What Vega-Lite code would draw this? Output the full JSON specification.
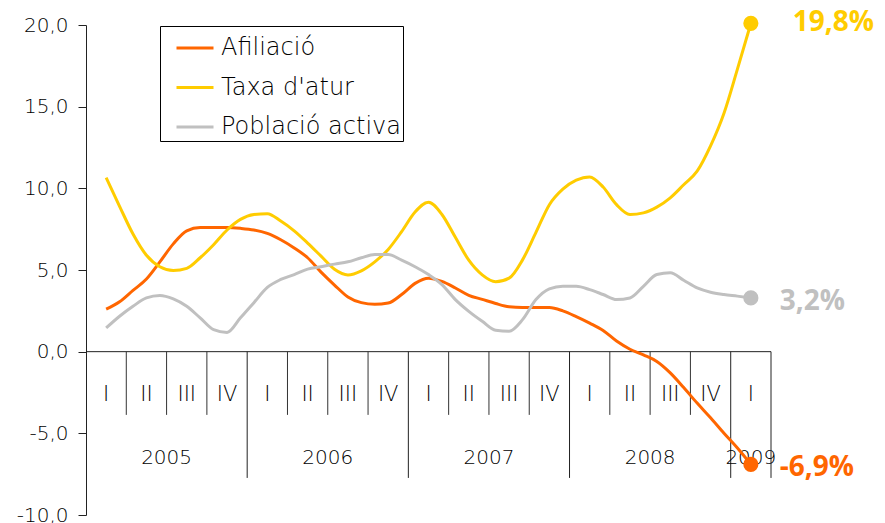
{
  "$schema": "https://vega.github.io/schema/vega-lite/v6.json",
  "width": 685,
  "height": 490,
  "autosize": {"type": "none"},
  "padding": {"left": 86, "top": 25, "right": 114, "bottom": 8},
  "background": "white",
  "config": {
    "view": {"stroke": null},
    "font": "DejaVu Sans",
    "legend": {
      "orient": "none",
      "strokeColor": "black",
      "fillColor": "white",
      "padding": 2,
      "symbolType": "stroke",
      "symbolStrokeWidth": 3,
      "symbolSize": 1369,
      "symbolOffset": 13,
      "rowPadding": 7.5,
      "labelFontSize": 24,
      "labelFont": "DejaVu Sans",
      "labelFontWeight": 200,
      "labelColor": "#000",
      "labelOffset": 6,
      "labelLimit": 400,
      "title": null
    }
  },
  "datasets": {
    "series": [
      {"serie": "Afiliació", "t": 0, "v": 2.6}, {"serie": "Afiliació", "t": 1, "v": 3.05}, {"serie": "Afiliació", "t": 2, "v": 3.75}, {"serie": "Afiliació", "t": 3, "v": 4.45}, {"serie": "Afiliació", "t": 4, "v": 5.5}, {"serie": "Afiliació", "t": 5, "v": 6.6}, {"serie": "Afiliació", "t": 6, "v": 7.4}, {"serie": "Afiliació", "t": 7, "v": 7.6}, {"serie": "Afiliació", "t": 8, "v": 7.6}, {"serie": "Afiliació", "t": 9, "v": 7.6}, {"serie": "Afiliació", "t": 10, "v": 7.55}, {"serie": "Afiliació", "t": 11, "v": 7.45}, {"serie": "Afiliació", "t": 12, "v": 7.24}, {"serie": "Afiliació", "t": 13, "v": 6.85}, {"serie": "Afiliació", "t": 14, "v": 6.35}, {"serie": "Afiliació", "t": 15, "v": 5.75}, {"serie": "Afiliació", "t": 16, "v": 4.87}, {"serie": "Afiliació", "t": 17, "v": 4.08}, {"serie": "Afiliació", "t": 18, "v": 3.35}, {"serie": "Afiliació", "t": 19, "v": 3.0}, {"serie": "Afiliació", "t": 20, "v": 2.9}, {"serie": "Afiliació", "t": 21, "v": 2.98}, {"serie": "Afiliació", "t": 22, "v": 3.5}, {"serie": "Afiliació", "t": 23, "v": 4.18}, {"serie": "Afiliació", "t": 24, "v": 4.5}, {"serie": "Afiliació", "t": 25, "v": 4.3}, {"serie": "Afiliació", "t": 26, "v": 3.9}, {"serie": "Afiliació", "t": 27, "v": 3.45}, {"serie": "Afiliació", "t": 28, "v": 3.2}, {"serie": "Afiliació", "t": 29, "v": 2.95}, {"serie": "Afiliació", "t": 30, "v": 2.75}, {"serie": "Afiliació", "t": 31, "v": 2.7}, {"serie": "Afiliació", "t": 32, "v": 2.7}, {"serie": "Afiliació", "t": 33, "v": 2.7}, {"serie": "Afiliació", "t": 34, "v": 2.5}, {"serie": "Afiliació", "t": 35, "v": 2.15}, {"serie": "Afiliació", "t": 36, "v": 1.75}, {"serie": "Afiliació", "t": 37, "v": 1.3}, {"serie": "Afiliació", "t": 38, "v": 0.65}, {"serie": "Afiliació", "t": 39, "v": 0.15}, {"serie": "Afiliació", "t": 40, "v": -0.2}, {"serie": "Afiliació", "t": 41, "v": -0.6}, {"serie": "Afiliació", "t": 42, "v": -1.3}, {"serie": "Afiliació", "t": 43, "v": -2.2}, {"serie": "Afiliació", "t": 44, "v": -3.15}, {"serie": "Afiliació", "t": 45, "v": -4.05}, {"serie": "Afiliació", "t": 46, "v": -5.0}, {"serie": "Afiliació", "t": 47, "v": -5.9}, {"serie": "Afiliació", "t": 48, "v": -6.9},
      {"serie": "Taxa d'atur", "t": 0, "v": 10.65}, {"serie": "Taxa d'atur", "t": 1, "v": 8.9}, {"serie": "Taxa d'atur", "t": 2, "v": 7.2}, {"serie": "Taxa d'atur", "t": 3, "v": 5.9}, {"serie": "Taxa d'atur", "t": 4, "v": 5.2}, {"serie": "Taxa d'atur", "t": 5, "v": 4.97}, {"serie": "Taxa d'atur", "t": 6, "v": 5.1}, {"serie": "Taxa d'atur", "t": 7, "v": 5.75}, {"serie": "Taxa d'atur", "t": 8, "v": 6.55}, {"serie": "Taxa d'atur", "t": 9, "v": 7.45}, {"serie": "Taxa d'atur", "t": 10, "v": 8.1}, {"serie": "Taxa d'atur", "t": 11, "v": 8.4}, {"serie": "Taxa d'atur", "t": 12, "v": 8.45}, {"serie": "Taxa d'atur", "t": 13, "v": 8.0}, {"serie": "Taxa d'atur", "t": 14, "v": 7.4}, {"serie": "Taxa d'atur", "t": 15, "v": 6.65}, {"serie": "Taxa d'atur", "t": 16, "v": 5.85}, {"serie": "Taxa d'atur", "t": 17, "v": 5.05}, {"serie": "Taxa d'atur", "t": 18, "v": 4.7}, {"serie": "Taxa d'atur", "t": 19, "v": 4.95}, {"serie": "Taxa d'atur", "t": 20, "v": 5.5}, {"serie": "Taxa d'atur", "t": 21, "v": 6.26}, {"serie": "Taxa d'atur", "t": 22, "v": 7.35}, {"serie": "Taxa d'atur", "t": 23, "v": 8.55}, {"serie": "Taxa d'atur", "t": 24, "v": 9.15}, {"serie": "Taxa d'atur", "t": 25, "v": 8.4}, {"serie": "Taxa d'atur", "t": 26, "v": 7.0}, {"serie": "Taxa d'atur", "t": 27, "v": 5.6}, {"serie": "Taxa d'atur", "t": 28, "v": 4.7}, {"serie": "Taxa d'atur", "t": 29, "v": 4.28}, {"serie": "Taxa d'atur", "t": 30, "v": 4.5}, {"serie": "Taxa d'atur", "t": 31, "v": 5.62}, {"serie": "Taxa d'atur", "t": 32, "v": 7.3}, {"serie": "Taxa d'atur", "t": 33, "v": 9.0}, {"serie": "Taxa d'atur", "t": 34, "v": 9.95}, {"serie": "Taxa d'atur", "t": 35, "v": 10.5}, {"serie": "Taxa d'atur", "t": 36, "v": 10.7}, {"serie": "Taxa d'atur", "t": 37, "v": 10.08}, {"serie": "Taxa d'atur", "t": 38, "v": 9.0}, {"serie": "Taxa d'atur", "t": 39, "v": 8.4}, {"serie": "Taxa d'atur", "t": 40, "v": 8.5}, {"serie": "Taxa d'atur", "t": 41, "v": 8.85}, {"serie": "Taxa d'atur", "t": 42, "v": 9.42}, {"serie": "Taxa d'atur", "t": 43, "v": 10.22}, {"serie": "Taxa d'atur", "t": 44, "v": 11.05}, {"serie": "Taxa d'atur", "t": 45, "v": 12.6}, {"serie": "Taxa d'atur", "t": 46, "v": 14.6}, {"serie": "Taxa d'atur", "t": 47, "v": 17.3}, {"serie": "Taxa d'atur", "t": 48, "v": 20.1},
      {"serie": "Població activa", "t": 0, "v": 1.45}, {"serie": "Població activa", "t": 1, "v": 2.17}, {"serie": "Població activa", "t": 2, "v": 2.78}, {"serie": "Població activa", "t": 3, "v": 3.29}, {"serie": "Població activa", "t": 4, "v": 3.44}, {"serie": "Població activa", "t": 5, "v": 3.23}, {"serie": "Població activa", "t": 6, "v": 2.78}, {"serie": "Població activa", "t": 7, "v": 2.07}, {"serie": "Població activa", "t": 8, "v": 1.35}, {"serie": "Població activa", "t": 9, "v": 1.18}, {"serie": "Població activa", "t": 10, "v": 2.07}, {"serie": "Població activa", "t": 11, "v": 3.0}, {"serie": "Població activa", "t": 12, "v": 3.93}, {"serie": "Població activa", "t": 13, "v": 4.42}, {"serie": "Població activa", "t": 14, "v": 4.72}, {"serie": "Població activa", "t": 15, "v": 5.05}, {"serie": "Població activa", "t": 16, "v": 5.2}, {"serie": "Població activa", "t": 17, "v": 5.36}, {"serie": "Població activa", "t": 18, "v": 5.5}, {"serie": "Població activa", "t": 19, "v": 5.75}, {"serie": "Població activa", "t": 20, "v": 5.95}, {"serie": "Població activa", "t": 21, "v": 5.95}, {"serie": "Població activa", "t": 22, "v": 5.6}, {"serie": "Població activa", "t": 23, "v": 5.2}, {"serie": "Població activa", "t": 24, "v": 4.72}, {"serie": "Població activa", "t": 25, "v": 4.11}, {"serie": "Població activa", "t": 26, "v": 3.19}, {"serie": "Població activa", "t": 27, "v": 2.47}, {"serie": "Població activa", "t": 28, "v": 1.86}, {"serie": "Població activa", "t": 29, "v": 1.31}, {"serie": "Població activa", "t": 30, "v": 1.25}, {"serie": "Població activa", "t": 31, "v": 1.96}, {"serie": "Població activa", "t": 32, "v": 3.19}, {"serie": "Població activa", "t": 33, "v": 3.85}, {"serie": "Població activa", "t": 34, "v": 4.01}, {"serie": "Població activa", "t": 35, "v": 4.0}, {"serie": "Població activa", "t": 36, "v": 3.8}, {"serie": "Població activa", "t": 37, "v": 3.5}, {"serie": "Població activa", "t": 38, "v": 3.19}, {"serie": "Població activa", "t": 39, "v": 3.29}, {"serie": "Població activa", "t": 40, "v": 4.0}, {"serie": "Població activa", "t": 41, "v": 4.72}, {"serie": "Població activa", "t": 42, "v": 4.83}, {"serie": "Població activa", "t": 43, "v": 4.37}, {"serie": "Població activa", "t": 44, "v": 3.9}, {"serie": "Població activa", "t": 45, "v": 3.64}, {"serie": "Població activa", "t": 46, "v": 3.5}, {"serie": "Població activa", "t": 47, "v": 3.4}, {"serie": "Població activa", "t": 48, "v": 3.29}
    ],
    "finals": [
      {"serie": "Afiliació", "t": 48, "v": -6.9, "etiqueta": "-6,9%"},
      {"serie": "Taxa d'atur", "t": 48, "v": 20.1, "etiqueta": "19,8%"},
      {"serie": "Població activa", "t": 48, "v": 3.29, "etiqueta": "3,2%"}
    ]
  },
  "layer": [
    {
      "data": {"values": [{"t0": -1.5, "t1": 49.5}]},
      "mark": {"type": "rule", "color": "#222", "strokeWidth": 1},
      "encoding": {
        "x": {"field": "t0", "type": "quantitative", "scale": {"domain": [-1.5, 49.5], "nice": false, "zero": false}, "axis": null},
        "x2": {"field": "t1"},
        "y": {"datum": 0, "type": "quantitative", "scale": {"domain": [-10, 20], "nice": false, "zero": false},
          "axis": {"values": [-10, -5, 0, 5, 10, 15, 20], "labelExpr": "(datum.value < 0 ? '-' : '') + abs(datum.value) + ',0'", "grid": false, "domainColor": "#222", "tickColor": "#222", "tickSize": 8, "labelFontSize": 20, "labelFont": "DejaVu Sans", "labelFontWeight": 200, "labelColor": "#000", "labelPadding": 10, "title": null}}
      }
    },
    {
      "data": {"values": [{"t": 1.5}, {"t": 4.5}, {"t": 7.5}, {"t": 13.5}, {"t": 16.5}, {"t": 19.5}, {"t": 25.5}, {"t": 28.5}, {"t": 31.5}, {"t": 37.5}, {"t": 40.5}, {"t": 43.5}]},
      "mark": {"type": "rule", "color": "#333", "strokeWidth": 1},
      "encoding": {
        "x": {"field": "t", "type": "quantitative"},
        "y": {"datum": 0, "type": "quantitative"},
        "y2": {"datum": -3.87}
      }
    },
    {
      "data": {"values": [{"t": 10.5}, {"t": 22.5}, {"t": 34.5}, {"t": 46.5}, {"t": 49.5}]},
      "mark": {"type": "rule", "color": "#222", "strokeWidth": 1},
      "encoding": {
        "x": {"field": "t", "type": "quantitative"},
        "y": {"datum": 0, "type": "quantitative"},
        "y2": {"datum": -7.73}
      }
    },
    {
      "data": {"values": [
        {"t": 0, "q": "I"}, {"t": 3, "q": "II"}, {"t": 6, "q": "III"}, {"t": 9, "q": "IV"},
        {"t": 12, "q": "I"}, {"t": 15, "q": "II"}, {"t": 18, "q": "III"}, {"t": 21, "q": "IV"},
        {"t": 24, "q": "I"}, {"t": 27, "q": "II"}, {"t": 30, "q": "III"}, {"t": 33, "q": "IV"},
        {"t": 36, "q": "I"}, {"t": 39, "q": "II"}, {"t": 42, "q": "III"}, {"t": 45, "q": "IV"},
        {"t": 48, "q": "I"}
      ]},
      "mark": {"type": "text", "fontSize": 21, "font": "DejaVu Sans", "fontWeight": 200, "color": "#000", "baseline": "middle", "align": "center"},
      "encoding": {
        "x": {"field": "t", "type": "quantitative"},
        "y": {"datum": -2.64, "type": "quantitative"},
        "text": {"field": "q"}
      }
    },
    {
      "data": {"values": [{"t": 4.5, "any": "2005"}, {"t": 16.5, "any": "2006"}, {"t": 28.5, "any": "2007"}, {"t": 40.5, "any": "2008"}, {"t": 48, "any": "2009"}]},
      "mark": {"type": "text", "fontSize": 20, "font": "DejaVu Sans", "fontWeight": 200, "color": "#000", "baseline": "middle", "align": "center"},
      "encoding": {
        "x": {"field": "t", "type": "quantitative"},
        "y": {"datum": -6.5, "type": "quantitative"},
        "text": {"field": "any"}
      }
    },
    {
      "data": {"name": "series"},
      "mark": {"type": "line", "strokeWidth": 3, "interpolate": "monotone"},
      "encoding": {
        "x": {"field": "t", "type": "quantitative"},
        "y": {"field": "v", "type": "quantitative"},
        "color": {"field": "serie", "type": "nominal", "sort": ["Afiliació", "Taxa d'atur", "Població activa"],
          "scale": {"domain": ["Afiliació", "Taxa d'atur", "Població activa"], "range": ["#FF6600", "#FFCC00", "#C0C0C0"]},
          "legend": {"orient": "none", "legendX": 74, "legendY": 1}}
      }
    },
    {
      "data": {"name": "finals"},
      "mark": {"type": "point", "filled": true, "opacity": 1, "size": 230, "strokeWidth": 0},
      "encoding": {
        "x": {"field": "t", "type": "quantitative"},
        "y": {"field": "v", "type": "quantitative"},
        "fill": {"field": "serie", "type": "nominal", "legend": null,
          "scale": {"domain": ["Afiliació", "Taxa d'atur", "Població activa"], "range": ["#FF6600", "#FFCC00", "#C0C0C0"]}}
      }
    },
    {
      "data": {"name": "finals"},
      "transform": [{"filter": "datum.serie === \"Taxa d'atur\""}],
      "mark": {"type": "text", "align": "left", "baseline": "middle", "dx": 42, "dy": 0, "fontSize": 28, "fontWeight": "bold", "font": "Open Sans"},
      "encoding": {
        "x": {"field": "t", "type": "quantitative"},
        "y": {"field": "v", "type": "quantitative"},
        "text": {"field": "etiqueta"},
        "fill": {"field": "serie", "type": "nominal", "legend": null}
      }
    },
    {
      "data": {"name": "finals"},
      "transform": [{"filter": "datum.serie !== \"Taxa d'atur\""}],
      "mark": {"type": "text", "align": "left", "baseline": "middle", "dx": 29, "dy": 4, "fontSize": 28, "fontWeight": "bold", "font": "Open Sans"},
      "encoding": {
        "x": {"field": "t", "type": "quantitative"},
        "y": {"field": "v", "type": "quantitative"},
        "text": {"field": "etiqueta"},
        "fill": {"field": "serie", "type": "nominal", "legend": null}
      }
    }
  ]
}
